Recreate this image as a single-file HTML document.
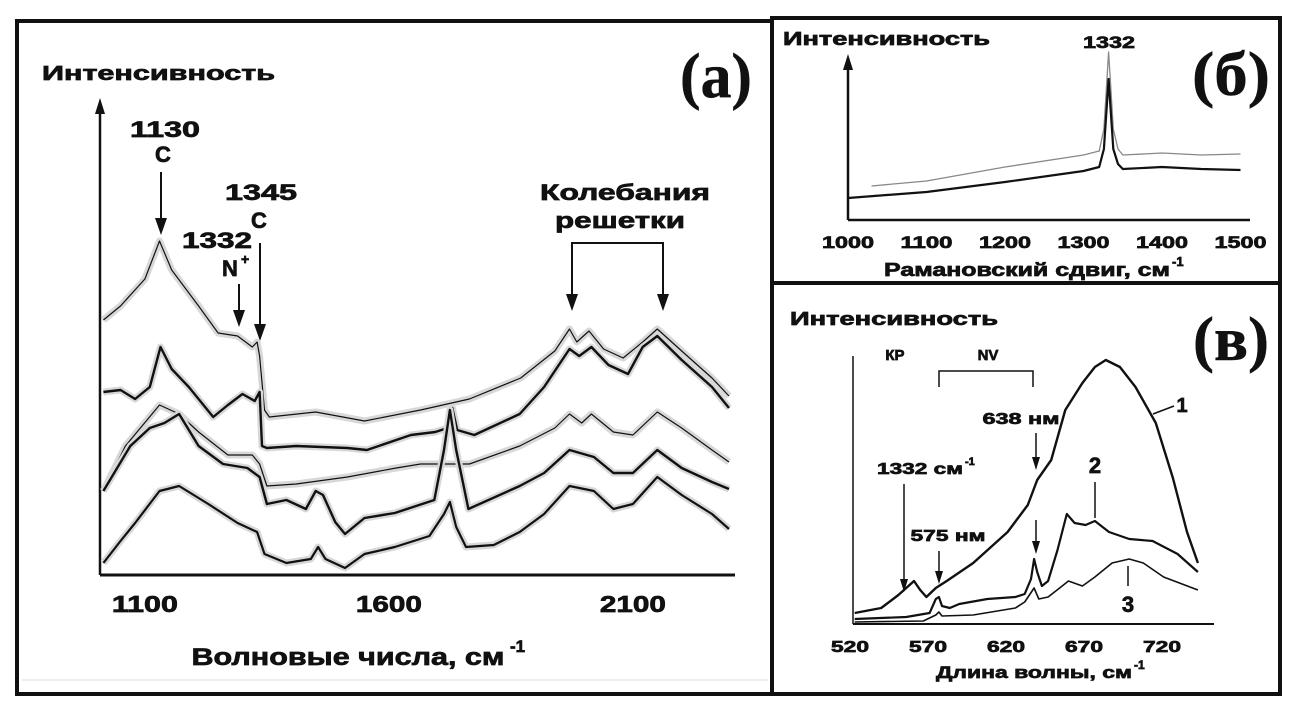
<!DOCTYPE html>
<html><head><meta charset="utf-8"><style>
html,body{margin:0;padding:0;background:#fff;}
svg{display:block;}
text{font-family:"Liberation Sans",sans-serif;font-weight:bold;fill:#111;stroke:#111;stroke-width:0.7;}
.serif{font-family:"Liberation Serif",serif;font-weight:bold;stroke-width:0.5;}
</style></head><body>
<svg id="fig" width="1299" height="704" viewBox="0 0 1299 704" xmlns="http://www.w3.org/2000/svg">
<rect x="0" y="0" width="1299" height="704" fill="#fff"/>
<rect x="17" y="21" width="755" height="673" fill="none" stroke="#111" stroke-width="4"/>
<line x1="22" y1="680" x2="768" y2="680" stroke="#ddd" stroke-width="1"/>
<rect x="772" y="18" width="508" height="265" fill="none" stroke="#111" stroke-width="4"/>
<rect x="772" y="283" width="508" height="411" fill="none" stroke="#111" stroke-width="4"/>

<!-- Panel A static -->
<g>
<text x="42" y="80" font-size="20" textLength="233" lengthAdjust="spacingAndGlyphs">Интенсивность</text>
<text class="serif" x="680" y="97" font-size="64" textLength="72" lengthAdjust="spacingAndGlyphs">(а)</text>
<line x1="100" y1="575" x2="100" y2="112" stroke="#111" stroke-width="2.5"/>
<polygon points="95,114 105,114 100,98" fill="#111"/>
<line x1="100" y1="575" x2="735" y2="575" stroke="#111" stroke-width="3"/>
<text x="348" y="665" font-size="24" text-anchor="middle" textLength="313" lengthAdjust="spacingAndGlyphs">Волновые числа, см</text>
<text x="510" y="652" font-size="17">-1</text>
<text x="165" y="137" font-size="22" text-anchor="middle" textLength="70" lengthAdjust="spacingAndGlyphs">1130</text>
<text x="163" y="162" font-size="22" text-anchor="middle">C</text>
<line x1="161" y1="172" x2="161" y2="222" stroke="#111" stroke-width="2"/>
<polygon points="155,218 167,218 161,235" fill="#111"/>
<text x="261" y="200" font-size="22" text-anchor="middle" textLength="72" lengthAdjust="spacingAndGlyphs">1345</text>
<text x="259" y="228" font-size="22" text-anchor="middle">C</text>
<line x1="260" y1="243" x2="260" y2="328" stroke="#111" stroke-width="2"/>
<polygon points="254,324 266,324 260,341" fill="#111"/>
<text x="217" y="248" font-size="22" text-anchor="middle" textLength="70" lengthAdjust="spacingAndGlyphs">1332</text>
<text x="230" y="276" font-size="22" text-anchor="middle">N</text>
<text x="241" y="264" font-size="14">+</text>
<line x1="239" y1="284" x2="239" y2="314" stroke="#111" stroke-width="2"/>
<polygon points="233,310 245,310 239,327" fill="#111"/>
<text x="625" y="200" font-size="22" text-anchor="middle" textLength="170" lengthAdjust="spacingAndGlyphs">Колебания</text>
<text x="620" y="228" font-size="22" text-anchor="middle" textLength="130" lengthAdjust="spacingAndGlyphs">решетки</text>
<polyline points="572,298 572,243 663,243 663,298" fill="none" stroke="#111" stroke-width="2"/>
<polygon points="566,294 578,294 572,311" fill="#111"/>
<polygon points="657,294 669,294 663,311" fill="#111"/>
<g id="a-ticks"></g>
<g id="a-curves"></g>
</g>

<!-- Panel B -->
<g>
<text x="783" y="45" font-size="18" textLength="207" lengthAdjust="spacingAndGlyphs">Интенсивность</text>
<text class="serif" x="1192" y="95" font-size="62" textLength="78" lengthAdjust="spacingAndGlyphs">(б)</text>
<text x="1109" y="48" font-size="17" text-anchor="middle" textLength="52" lengthAdjust="spacingAndGlyphs">1332</text>
<line x1="848" y1="220" x2="848" y2="68" stroke="#111" stroke-width="2.5"/>
<polygon points="843,70 853,70 848,54" fill="#111"/>
<line x1="848" y1="220" x2="1250" y2="220" stroke="#111" stroke-width="2.5"/>
<text x="1027" y="276" font-size="18" text-anchor="middle" textLength="286" lengthAdjust="spacingAndGlyphs">Рамановский сдвиг, см</text>
<text x="1172" y="266" font-size="13">-1</text>
<g id="b-ticks"></g>
<g id="b-curves"></g>
</g>

<!-- Panel C -->
<g>
<text x="790" y="325" font-size="18" textLength="208" lengthAdjust="spacingAndGlyphs">Интенсивность</text>
<text class="serif" x="1193" y="360" font-size="62" textLength="76" lengthAdjust="spacingAndGlyphs">(в)</text>
<line x1="853" y1="624" x2="853" y2="356" stroke="#111" stroke-width="1.5"/>
<line x1="853" y1="624" x2="1214" y2="624" stroke="#111" stroke-width="2"/>
<text x="1034" y="678" font-size="17" text-anchor="middle" textLength="196" lengthAdjust="spacingAndGlyphs">Длина волны, см</text>
<text x="1134" y="669" font-size="12">-1</text>
<text x="895" y="360" font-size="15" text-anchor="middle">КР</text>
<text x="988" y="360" font-size="15" text-anchor="middle">NV</text>
<polyline points="939,387 939,371 1033,371 1033,387" fill="none" stroke="#111" stroke-width="1.5"/>
<text x="1021" y="424" font-size="16" text-anchor="middle" textLength="77" lengthAdjust="spacingAndGlyphs">638 нм</text>
<line x1="1036" y1="433" x2="1036" y2="460" stroke="#111" stroke-width="1.5"/>
<polygon points="1032,457 1040,457 1036,470" fill="#111"/>
<line x1="1036" y1="520" x2="1036" y2="544" stroke="#111" stroke-width="1.5"/>
<polygon points="1032,541 1040,541 1036,554" fill="#111"/>
<text x="920" y="474" font-size="16" text-anchor="middle" textLength="86" lengthAdjust="spacingAndGlyphs">1332 см</text>
<text x="965" y="465" font-size="11">-1</text>
<line x1="904" y1="484" x2="904" y2="582" stroke="#111" stroke-width="1.5"/>
<polygon points="900,579 908,579 904,592" fill="#111"/>
<text x="948" y="541" font-size="16" text-anchor="middle" textLength="75" lengthAdjust="spacingAndGlyphs">575 нм</text>
<line x1="939" y1="551" x2="939" y2="574" stroke="#111" stroke-width="1.5"/>
<polygon points="935,571 943,571 939,584" fill="#111"/>
<text x="1182" y="412" font-size="20" text-anchor="middle">1</text>
<line x1="1153" y1="414" x2="1174" y2="406" stroke="#111" stroke-width="1.5"/>
<text x="1095" y="473" font-size="22" text-anchor="middle">2</text>
<line x1="1095" y1="482" x2="1095" y2="518" stroke="#111" stroke-width="1.5"/>
<text x="1128" y="612" font-size="22" text-anchor="middle">3</text>
<line x1="1128" y1="566" x2="1128" y2="586" stroke="#111" stroke-width="1.5"/>
<g id="c-ticks"></g>
<g id="c-curves"></g>
</g>
</svg>
<script>
// ---------- Panel A data ----------
const aTicks = [1100, 1600, 2100];
const a1x = [1015,1050,1100,1130,1155,1210,1250,1290,1320,1330,1335,1345,1355,1450,1550,1665,1765,1870,1940,1970,1985,2010,2040,2080,2120,2150,2200,2262,2297];
const a1y = [254,268,295,333,304,268,241,238,227,232,218,164,157,162,153,164,175,196,223,245,232,243,225,216,232,245,223,196,178];
const a2x = [1015,1050,1080,1110,1132,1155,1190,1240,1270,1300,1325,1335,1340,1350,1410,1515,1555,1645,1695,1720,1730,1740,1775,1868,1918,1970,1990,2015,2050,2090,2120,2150,2200,2262,2297];
const a2y = [182,184,175,187,227,205,187,157,169,180,173,182,128,126,128,126,124,139,142,146,166,144,139,160,187,225,218,227,209,200,227,238,214,187,166];
const a3x = [1015,1060,1130,1170,1210,1270,1320,1335,1350,1410,1515,1615,1665,1765,1868,1940,1970,1995,2015,2060,2100,2150,2200,2262,2297];
const a3y = [83,128,169,160,142,119,119,110,88,90,97,106,110,110,128,146,160,151,160,142,139,162,146,124,112];
const a4x = [1015,1070,1110,1140,1170,1210,1260,1310,1335,1350,1390,1430,1450,1465,1490,1510,1550,1612,1693,1713,1725,1738,1763,1868,1918,1970,2020,2060,2100,2150,2200,2262,2297];
const a4y = [83,128,146,151,160,128,110,106,97,70,74,65,83,79,52,40,56,61,74,124,164,124,65,88,101,124,117,101,101,124,106,92,85];
const a5x = [1015,1050,1080,1130,1170,1230,1290,1330,1345,1390,1440,1455,1470,1510,1550,1612,1683,1713,1725,1738,1758,1815,1868,1918,1970,2020,2060,2100,2150,2200,2262,2297];
const a5y = [11,33,51,83,88,70,51,42,20,11,15,27,15,6,20,27,38,60,72,47,27,29,42,60,88,83,65,70,97,79,60,45];
const aSeries = [[a1x,a1y,1.2],[a2x,a2y,2.4],[a3x,a3y,1.2],[a4x,a4y,2.4],[a5x,a5y,2.2]];
// ---------- Panel B data ----------
const bTicks = [1000,1100,1200,1300,1400,1500];
const bBlackX = [1000,1100,1200,1300,1320,1326,1332,1338,1344,1350,1400,1450,1500];
const bBlackY = [21,27,37,48,52,70,140,70,55,50,52,50,49];
const bGrayX = [1030,1100,1200,1300,1320,1326,1332,1338,1344,1350,1400,1450,1500];
const bGrayY = [33,38,52,64,68,90,167,90,70,64,66,64,65];
// ---------- Panel C data ----------
const cTicks = [520,570,620,670,720];
const c1x = [523,540,551,556,561,565,569,575,582,599,621,634,640,649,658,669,677,684,693,703,716,727,736,743];
const c1y = [11,16,29,36,43,34,27,36,43,61,92,119,144,164,214,241,257,264,257,237,201,146,92,61];
const c2x = [523,556,571,575,577,579,584,590,608,626,632,636,638,640,643,647,653,659,664,671,677,686,699,714,730,743];
const c2y = [5,7,11,25,27,18,16,20,25,27,30,45,65,52,38,43,74,110,101,99,103,92,85,83,70,52];
const c3x = [523,567,575,577,579,599,626,632,638,641,647,656,660,669,677,688,699,708,721,743];
const c3y = [2,3,9,12,8,9,16,22,36,25,27,38,43,38,47,61,65,61,47,34];
const cSeries = [[c1x,c1y,2.4],[c2x,c2y,2.2],[c3x,c3y,1.6]];

const NS = 'http://www.w3.org/2000/svg';
function ax(v){return 100 + (v-1008)*0.488;}
function ay(v){return 574 - v;}
function bx(v){return 848 + (v-1000)*0.785;}
function by(v){return 219 - v;}
function cx(v){return 850 + (v-520)*1.56;}
function cy(v){return 624 - v;}
function pts(xs,ys,fx,fy){return xs.map((x,i)=>fx(x).toFixed(1)+','+fy(ys[i]).toFixed(1)).join(' ');}
function poly(g,p,w,color){
  const el=document.createElementNS(NS,'polyline');
  el.setAttribute('points',p);el.setAttribute('fill','none');el.setAttribute('stroke',color);
  el.setAttribute('stroke-width',w);el.setAttribute('stroke-linejoin','round');
  g.appendChild(el);return el;
}
function label(g,x,y,t,size,w){
  const el=document.createElementNS(NS,'text');
  el.setAttribute('x',x);el.setAttribute('y',y);el.setAttribute('font-size',size);
  el.setAttribute('text-anchor','middle');el.setAttribute('textLength',w);el.setAttribute('lengthAdjust','spacingAndGlyphs');
  el.textContent=t;g.appendChild(el);return el;
}
const ga=document.getElementById('a-curves');
aSeries.forEach((s,i)=>{
  const p=pts(s[0],s[1],ax,ay);
  const h=poly(ga,p,7,'#d8d8d8');
  
  
  const l=poly(ga,p,s[2],'#111');
  
  
});
const gat=document.getElementById('a-ticks');
aTicks.forEach(t=>{
  const el=label(gat,ax(t),612,String(t),23,66);
  
  
});
const gb=document.getElementById('b-curves');
const bg=poly(gb,pts(bGrayX,bGrayY,bx,by),1.3,'#888');


const bk=poly(gb,pts(bBlackX,bBlackY,bx,by),2.2,'#111');


const gbt=document.getElementById('b-ticks');
bTicks.forEach(t=>{
  const el=label(gbt,bx(t),248,String(t),17,52);
  
  
});
const gc=document.getElementById('c-curves');
cSeries.forEach((s,i)=>{
  const l=poly(gc,pts(s[0],s[1],cx,cy),s[2],'#111');
  
  
});
const gct=document.getElementById('c-ticks');
cTicks.forEach(t=>{
  const el=label(gct,cx(t),652,String(t),16,38);
  
  
});
</script>
</body></html>
